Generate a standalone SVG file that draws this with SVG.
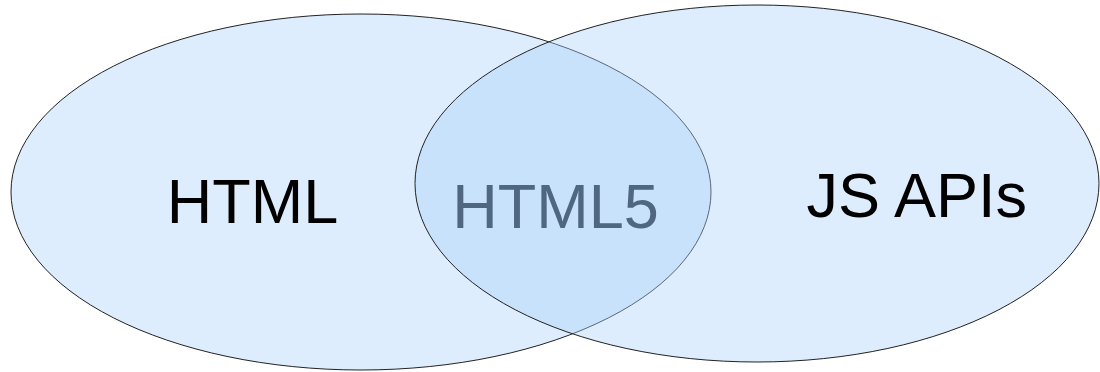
<svg xmlns="http://www.w3.org/2000/svg" width="1100" height="372" viewBox="0 0 1100 372">
<style>
.set{fill:#aad2fa;fill-opacity:0.4;stroke:#222;stroke-width:1}
.lbl{font-family:"Liberation Sans",Arial,sans-serif;font-size:63px;text-anchor:middle}
</style>
<rect width="1100" height="372" fill="#fff"/>
<g id="html">
<ellipse class="set" cx="361" cy="192" rx="350" ry="178"/>
<text class="lbl" x="252.5" y="223" fill="#000">HTML</text>
</g>
<g id="jsapis">
<ellipse class="set" cx="757" cy="183.5" rx="342" ry="178.5"/>
<text class="lbl" x="916.7" y="216.7" fill="#000">JS APIs</text>
</g>
<g id="html5">
<text class="lbl" x="555.5" y="228" fill="#4f6780">HTML5</text>
</g>
<g id="connectors"/>
</svg>
